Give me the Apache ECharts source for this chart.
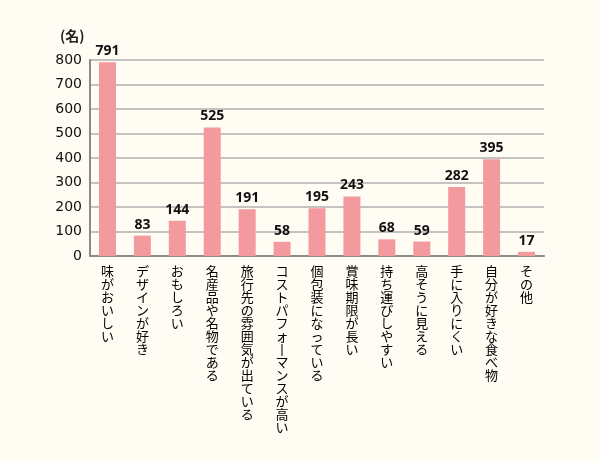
<!DOCTYPE html>
<html><head><meta charset="utf-8">
<script src="https://cdn.jsdelivr.net/npm/echarts@6/dist/echarts.min.js"></script>
<style>html,body{margin:0;padding:0;background:#fffcf4;}#c{width:600px;height:462px;}</style>
</head><body><div id="c"></div>
<script>
const categories = ['味がおいしい','デザインが好き','おもしろい','名産品や名物である','旅行先の雰囲気が出ている','コストパフォーマンスが高い','個包装になっている','賞味期限が長い','持ち運びしやすい','高そうに見える','手に入りにくい','自分が好きな食べ物','その他'];
const values = [791,83,144,525,191,58,195,243,68,59,282,395,17];
const yTicks = [0,100,200,300,400,500,600,700,800];
const unitLabel = '(名)';

const chart = echarts.init(document.getElementById('c'));
chart.setOption({
  backgroundColor:'#fffcf4',
  animation:false,
  title:{text:unitLabel,left:55,top:24,textStyle:{fontFamily:'Noto Sans CJK JP',fontSize:14,fontWeight:'bold',color:'#222'}},
  grid:{left:90,right:56,top:60,bottom:206},
  xAxis:{type:'category',data:categories,
    axisLine:{lineStyle:{color:'#8a8a8a',width:2}},
    axisTick:{inside:true,length:4,lineStyle:{color:'#8a8a8a',width:1.5}},
    axisLabel:{interval:0,margin:9,fontFamily:'Noto Sans CJK JP',fontSize:13,lineHeight:13,color:'#000',verticalAlign:'top',
      formatter:v=>v.replace(/ー/g,'丨').split('').join('\n')}},
  yAxis:{type:'value',min:0,max:800,interval:100,
    axisLine:{show:true,lineStyle:{color:'#8a8a8a',width:2}},
    axisTick:{show:false},
    splitLine:{lineStyle:{color:'#b0b0b0',width:1.5}},
    axisLabel:{margin:8,fontFamily:'DejaVu Sans',fontSize:14,color:'#111',
      formatter:v=>yTicks.includes(v)?String(v):''}},
  series:[{type:'bar',data:values,barWidth:17,
    itemStyle:{color:'#f29a9e'},
    label:{show:true,position:'top',distance:4,fontFamily:'Noto Sans',fontWeight:'bold',fontSize:14,color:'#111'}}]
});
</script></body></html>
